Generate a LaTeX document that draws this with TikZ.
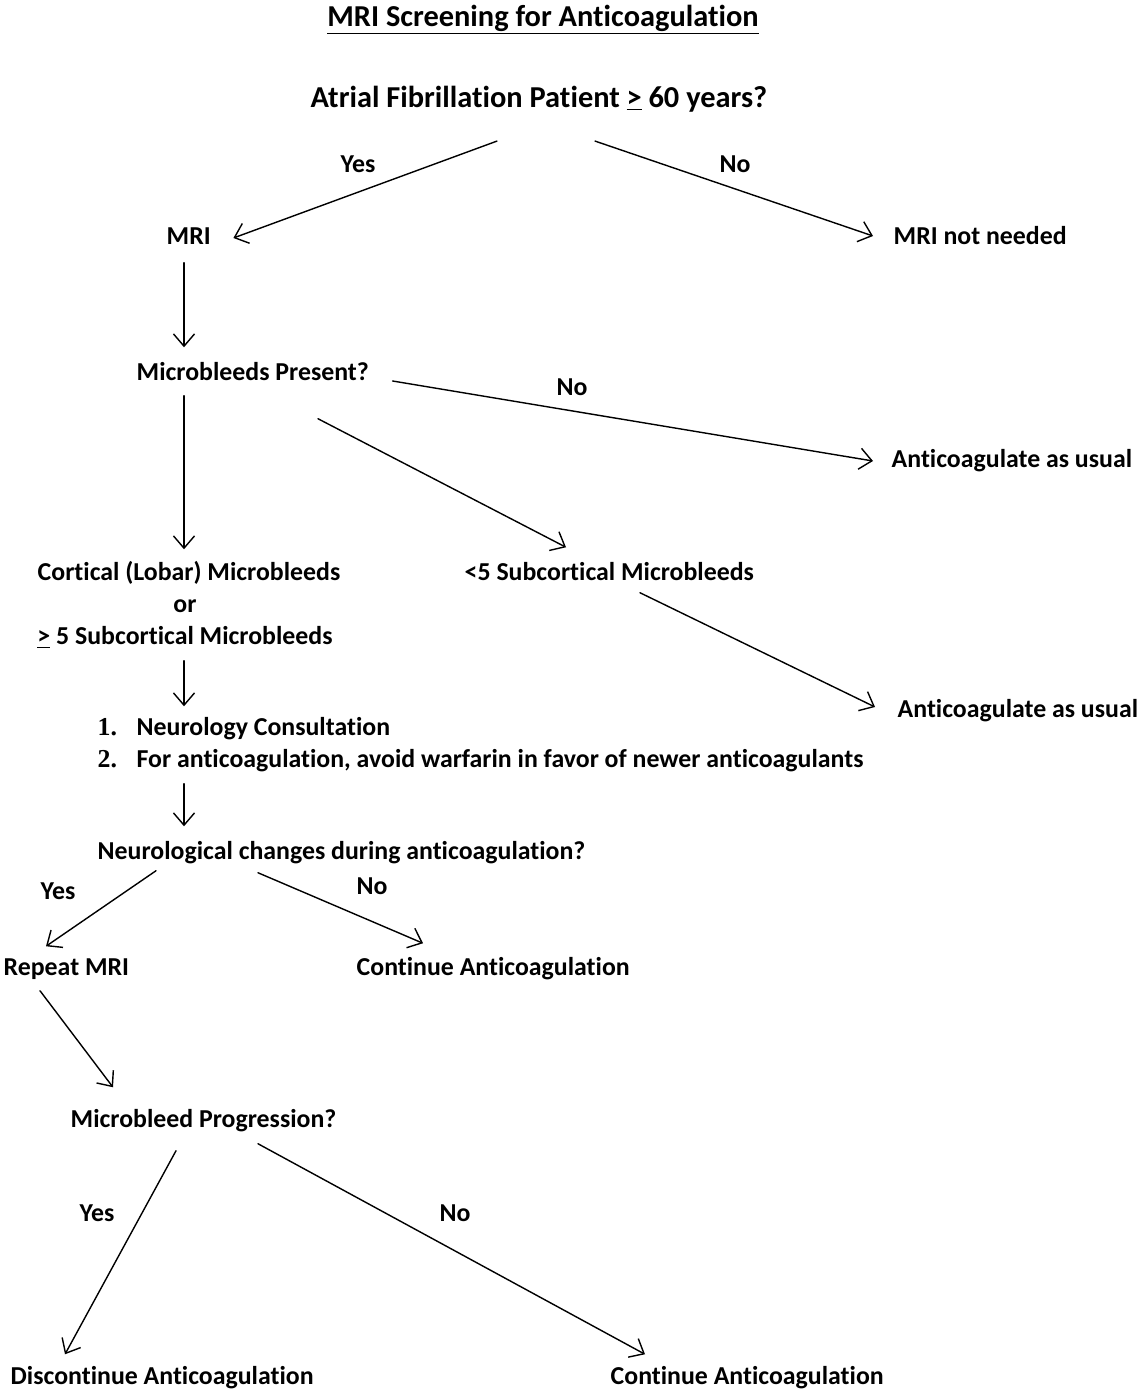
\documentclass[tikz,border=0pt]{standalone}
\usepackage{fontspec}
\setmainfont{Carlito}[Ligatures=NoCommon]
\newfontfamily\numfont{Liberation Serif}
\usetikzlibrary{arrows.meta,calc}

\begin{document}
\begin{tikzpicture}[x=0.02cm,y=-0.02cm,>={Straight Barb[length=7pt,width=12pt]},
	line join=round,line cap=round,line width=0.8pt,
	txt/.style={inner sep=0pt,anchor=west,font=\fontsize{14.7}{18.2}\selectfont\bfseries,text height=11.5pt,text depth=3pt},
	big/.style={txt,font=\fontsize{17.3}{21}\selectfont\bfseries,text height=14pt,text depth=3.5pt}]
	\useasboundingbox (0,0) rectangle (1144,1395);
	% boxes of text
	\node[big,anchor=center] (title) at (543,17) {\underline{MRI Screening for Anticoagulation}};
	\node[big] (q) at (310,98) {Atrial Fibrillation Patient \underline{>} 60 years?};
	\node[txt] (mri) at (166,237) {MRI};
	\node[txt] (mrino) at (893,237) {MRI not needed};
	\node[txt] (mb) at (136,373) {Microbleeds Present?};
	\node[txt] (acu1) at (891,460) {Anticoagulate as usual};
	\node[txt,anchor=center] (cort) at (189,573) {Cortical (Lobar) Microbleeds};
	\node[txt,anchor=center] (or) at (185,605) {or};
	\node[txt,anchor=center] (cortb) at (185,637) {\underline{>} 5 Subcortical Microbleeds};
	\node[txt] (sub5) at (464,573) {<5 Subcortical Microbleeds};
	\node[txt] (acu2) at (897,710) {Anticoagulate as usual};
	\node[txt] (itema) at (97,728) {\makebox[0.78cm][l]{\numfont 1.}Neurology Consultation};
	\node[txt] (itemb) at (97,760) {\makebox[0.78cm][l]{\numfont 2.}For anticoagulation, avoid warfarin in favor of newer anticoagulants};
	\node[txt] (neuro) at (97,852) {Neurological changes during anticoagulation?};
	\node[txt] (rep) at (3,968) {Repeat MRI};
	\node[txt] (cont1) at (356,968) {Continue Anticoagulation};
	\node[txt] (prog) at (70,1120) {Microbleed Progression?};
	\node[txt] (disc) at (10,1377) {Discontinue Anticoagulation};
	\node[txt] (cont2) at (610,1377) {Continue Anticoagulation};
	% arrows
	\draw[->] ($(q.south west)+(187,27)$) -- ($(mri.east)+(22,1)$);
	\draw[->] ($(q.south west)+(285,27)$) -- ($(mrino.west)+(-20,-1)$);
	\draw[->] ($(mri.south west)+(18,12.3)$) -- ($(mb.north west)+(48,-12.3)$);
	\draw[->] ($(mb.south west)+(48,9.3)$) -- ($(cort.north)+(-5,-10.3)$);
	\draw[->] ($(cortb.south)+(-1,10.3)$) -- ($(itema.north west)+(87,-8.3)$);
	\draw[->] ($(itemb.south west)+(87,10.3)$) -- ($(neuro.north west)+(87,-12.3)$);
	\draw[->] ($(mb.east)+(23,8)$) -- ($(acu1.west)+(-18,1)$);
	\draw[->] ($(mb.south west)+(182,32.3)$) -- ($(sub5.north west)+(102,-12.3)$);
	\draw[->] ($(sub5.south west)+(176,6.3)$) -- ($(acu2.west)+(-22,-3)$);
	\draw[->] ($(neuro.south west)+(59,5.3)$) -- ($(rep.north west)+(43,-8.3)$);
	\draw[->] ($(neuro.south west)+(161,7.3)$) -- ($(cont1.north west)+(67,-11.3)$);
	\draw[->] ($(rep.south west)+(37,9.3)$) -- ($(prog.north west)+(43,-19.3)$);
	\draw[->] ($(prog.south west)+(106,17.3)$) -- ($(disc.north west)+(55,-9.3)$);
	\draw[->] ($(prog.south west)+(188,10.3)$) -- ($(cont2.north west)+(35,-9.3)$);
	% yes / no
	\foreach \x/\y/\t [count=\i] in {358/165/Yes,735/165/No,572/388/No,58/892/Yes,372/887/No,97/1214/Yes,455/1214/No}
	{\node[txt,anchor=center] (lab\i) at (\x,\y) {\t};}
\end{tikzpicture}
\end{document}
